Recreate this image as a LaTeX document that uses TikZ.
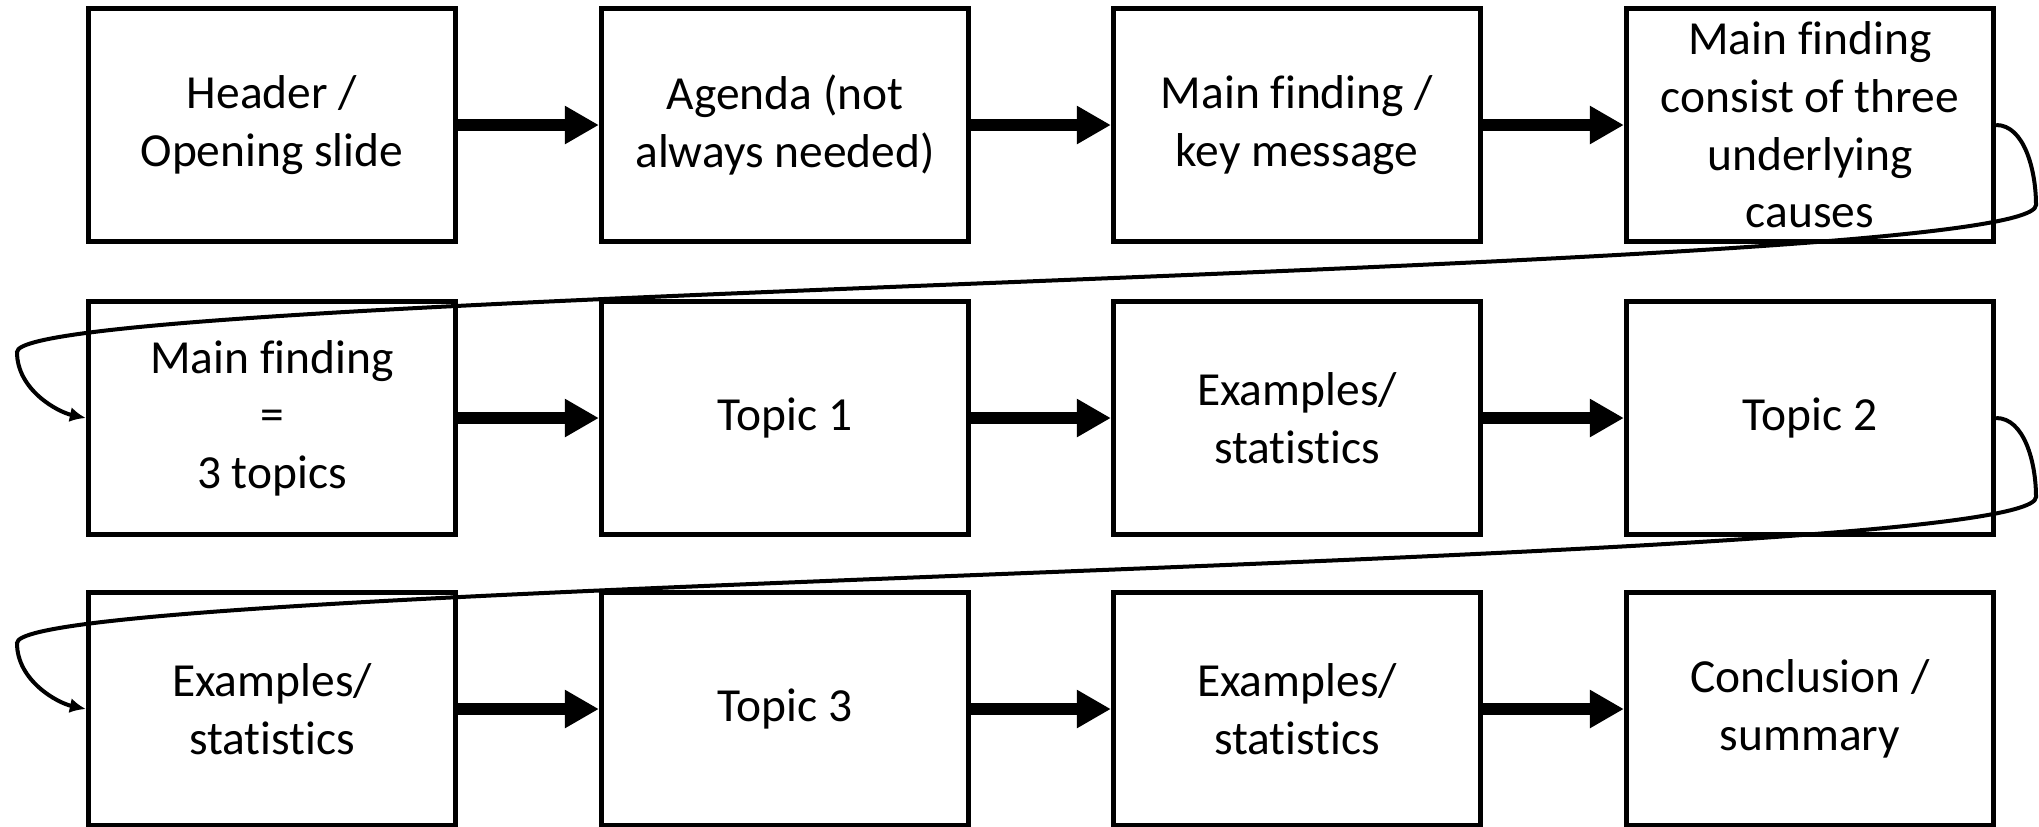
\documentclass[tikz,border=0pt]{standalone}
\usepackage{fontspec}
\setmainfont{Carlito}[Ligatures={NoCommon,NoContextual}]
\usepackage{tikz}
\usetikzlibrary{positioning,arrows.meta,calc}
\tikzset{slide box/.style={draw,line width=0.05cm,minimum width=3.67cm,minimum height=2.32cm,
    inner sep=0pt,align=center,font=\fontsize{13.5}{16.4}\selectfont}}
\tikzset{flow arrow/.style={line width=0.12cm,-{Triangle[length=0.34cm,width=0.36cm]}}}
\tikzset{wrap link/.style={line width=0.04cm,-{Latex[length=0.16cm,width=0.15cm]}}}

\begin{document}
\begin{tikzpicture}[x=0.01cm,y=0.01cm]
      \useasboundingbox (0,0) rectangle (2039,-826);
      % first row
      \node[slide box] (header) at (272,-125) {Header /\\Opening slide};
      \node[slide box] (agenda) at (785,-125) {Agenda (not\\always needed)};
      \node[slide box] (keymsg) at (1297,-125) {Main finding /\\key message};
      \node[slide box] (causes) at (1810,-125) {Main finding\\consist of three\\underlying\\causes};
      % second row
      \node[slide box] (topics) at (272,-418) {Main finding\\=\\3 topics};
      \node[slide box] (topicA) at (785,-418) {Topic 1};
      \node[slide box] (statsA) at (1297,-418) {Examples/\\statistics};
      \node[slide box] (topicB) at (1810,-418) {Topic 2};
      % third row
      \node[slide box] (statsB) at (272,-709) {Examples/\\statistics};
      \node[slide box] (topicC) at (785,-709) {Topic 3};
      \node[slide box] (statsC) at (1297,-709) {Examples/\\statistics};
      \node[slide box] (summary) at (1810,-709) {Conclusion /\\summary};
      \draw[flow arrow] (header) -- (agenda);
      \draw[flow arrow] (agenda) -- (keymsg);
      \draw[flow arrow] (keymsg) -- (causes);
      \draw[flow arrow] (topics) -- (topicA);
      \draw[flow arrow] (topicA) -- (statsA);
      \draw[flow arrow] (statsA) -- (topicB);
      \draw[flow arrow] (statsB) -- (topicC);
      \draw[flow arrow] (topicC) -- (statsC);
      \draw[flow arrow] (statsC) -- (summary);
      % wrap-around links
      \coordinate (wrapAr) at (2036,-205);
      \coordinate (wrapAl) at (17,-352);
      \coordinate (wrapBr) at (2036,-497);
      \coordinate (wrapBl) at (17,-643);
      \draw[wrap link] (causes.east) .. controls +(28,0) and +(0,35) .. (wrapAr)
        .. controls +(0,-70) and +(0,62) .. (wrapAl)
        .. controls +(0,-38) and +(-28,6) .. (topics.west);
      \draw[wrap link] (topicB.east) .. controls +(28,0) and +(0,35) .. (wrapBr)
        .. controls +(0,-70) and +(0,62) .. (wrapBl)
        .. controls +(0,-38) and +(-28,6) .. (statsB.west);
    \end{tikzpicture}
\end{document}
